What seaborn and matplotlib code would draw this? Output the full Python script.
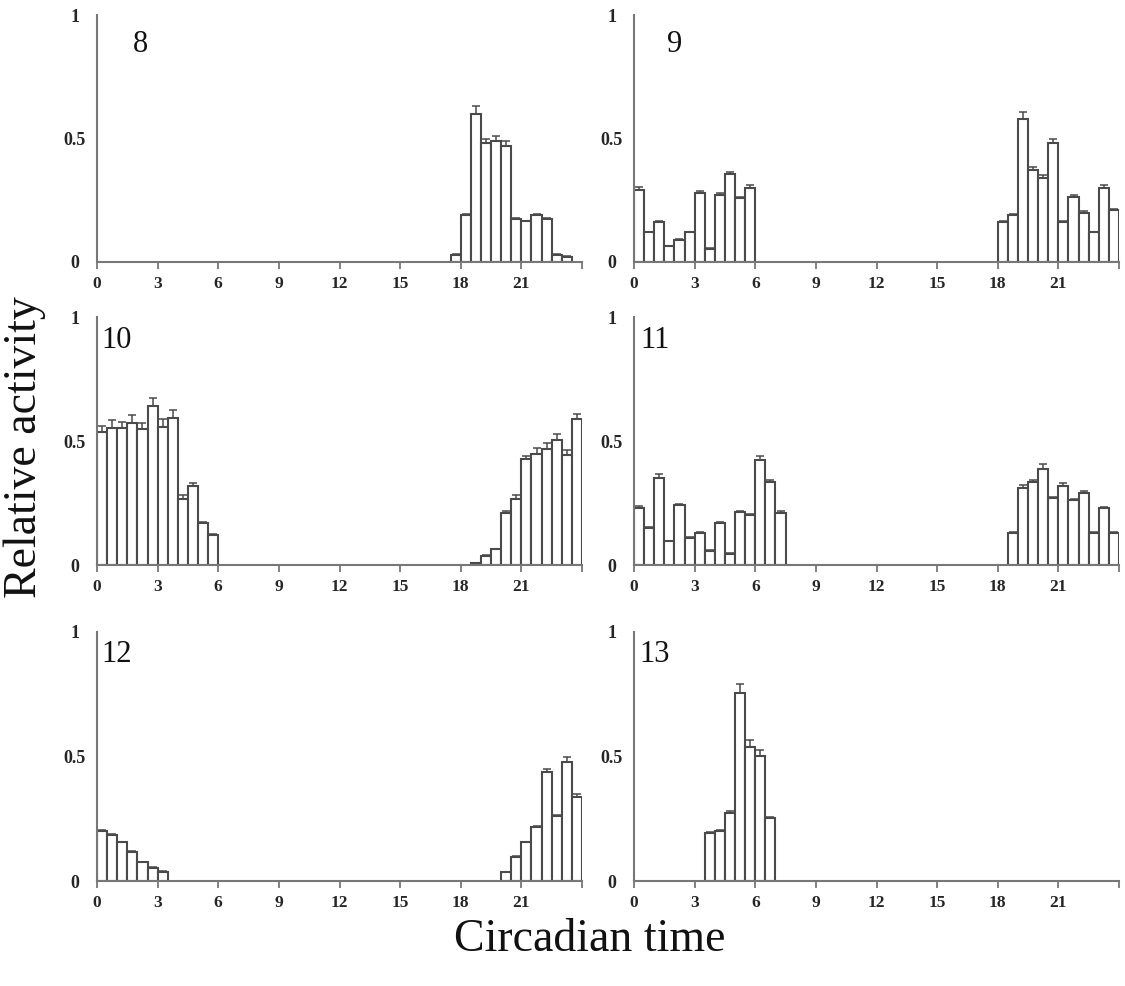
import numpy as np
import pandas as pd
import matplotlib
matplotlib.use("Agg")
import matplotlib.pyplot as plt
import seaborn as sns

sns.set_theme(style="white")
plt.rcParams['font.family'] = ['Liberation Serif', 'DejaVu Serif']

# ---- data: bin start times (h), relative activity, SE ----
p8_t = [17.5, 18, 18.5, 19, 19.5, 20, 20.5, 21, 21.5, 22, 22.5, 23]
p8_v = [0.03, 0.19, 0.60, 0.48, 0.49, 0.47, 0.176, 0.164, 0.19, 0.176, 0.03, 0.02]
p8_e = [0.004, 0.005, 0.03, 0.02, 0.02, 0.02, 0.004, 0.004, 0.005, 0.004, 0.003, 0.003]

p9_t = [0, 0.5, 1, 1.5, 2, 2.5, 3, 3.5, 4, 4.5, 5, 5.5,
        18, 18.5, 19, 19.5, 20, 20.5, 21, 21.5, 22, 22.5, 23, 23.5]
p9_v = [0.29, 0.12, 0.16, 0.063, 0.09, 0.12, 0.28, 0.054, 0.27, 0.356, 0.258, 0.30,
        0.161, 0.19, 0.578, 0.372, 0.34, 0.48, 0.161, 0.265, 0.20, 0.12, 0.30, 0.21]
p9_e = [0.012, 0.003, 0.005, 0.003, 0.003, 0.003, 0.006, 0.003, 0.008, 0.01, 0.006, 0.01,
        0.004, 0.005, 0.03, 0.013, 0.012, 0.02, 0.004, 0.006, 0.005, 0.003, 0.01, 0.006]

p10_t = [0, 0.5, 1, 1.5, 2, 2.5, 3, 3.5, 4, 4.5, 5, 5.5,
         18.5, 19, 19.5, 20, 20.5, 21, 21.5, 22, 22.5, 23, 23.5]
p10_v = [0.536, 0.554, 0.551, 0.574, 0.547, 0.642, 0.558, 0.594, 0.267, 0.318, 0.168, 0.121,
         0.008, 0.038, 0.063, 0.21, 0.267, 0.426, 0.446, 0.466, 0.504, 0.444, 0.587]
p10_e = [0.024, 0.03, 0.025, 0.03, 0.027, 0.03, 0.03, 0.03, 0.015, 0.013, 0.005, 0.003,
         0.002, 0.003, 0.003, 0.006, 0.015, 0.013, 0.024, 0.027, 0.026, 0.019, 0.023]

p11_t = [0, 0.5, 1, 1.5, 2, 2.5, 3, 3.5, 4, 4.5, 5, 5.5, 6, 6.5, 7,
         18.5, 19, 19.5, 20, 20.5, 21, 21.5, 22, 22.5, 23, 23.5]
p11_v = [0.231, 0.149, 0.349, 0.095, 0.24, 0.109, 0.129, 0.058, 0.17, 0.045, 0.212, 0.20, 0.425, 0.333, 0.21,
         0.129, 0.31, 0.333, 0.387, 0.272, 0.319, 0.262, 0.292, 0.129, 0.228, 0.129]
p11_e = [0.005, 0.004, 0.017, 0.003, 0.006, 0.003, 0.003, 0.002, 0.003, 0.002, 0.007, 0.004, 0.013, 0.011, 0.007,
         0.003, 0.013, 0.011, 0.02, 0.004, 0.011, 0.005, 0.006, 0.003, 0.006, 0.003]

p12_t = [0, 0.5, 1, 1.5, 2, 2.5, 3,
         20, 20.5, 21, 21.5, 22, 22.5, 23, 23.5]
p12_v = [0.20, 0.184, 0.155, 0.117, 0.075, 0.053, 0.036,
         0.036, 0.096, 0.155, 0.217, 0.437, 0.261, 0.477, 0.337]
p12_e = [0.006, 0.006, 0.003, 0.003, 0.003, 0.003, 0.003,
         0.002, 0.003, 0.003, 0.005, 0.014, 0.005, 0.02, 0.012]

p13_t = [3.5, 4, 4.5, 5, 5.5, 6, 6.5]
p13_v = [0.192, 0.20, 0.273, 0.756, 0.54, 0.502, 0.252]
p13_e = [0.003, 0.005, 0.007, 0.034, 0.027, 0.024, 0.006]

panel_ids = ["8", "9", "10", "11", "12", "13"]
panels = [(p8_t, p8_v, p8_e), (p9_t, p9_v, p9_e), (p10_t, p10_v, p10_e),
          (p11_t, p11_v, p11_e), (p12_t, p12_v, p12_e), (p13_t, p13_v, p13_e)]

xticks = [0, 3, 6, 9, 12, 15, 18, 21, 24]
xticklabels = ["0", "3", "6", "9", "12", "15", "18", "21", ""]
yticks = [0, 0.5, 1]
yticklabels = ["0", "0.5", "1"]

# ---- layout ----
W, H = 1125, 986
fig = plt.figure(figsize=(W / 100, H / 100), dpi=100)
col_x = [97, 634]
ax_w = 485
rows = [(15, 262), (317, 565), (632, 881)]
label_pos = [(140, 45), (675, 45), (117, 340), (655, 340), (117, 655), (655, 655)]

edge = "#4a4a4a"
axc = "#777777"
for i, (pid, (t, v, e)) in enumerate(zip(panel_ids, panels)):
    r, c = divmod(i, 2)
    top, bot = rows[r]
    ax = fig.add_axes([col_x[c] / W, 1 - bot / H, ax_w / W, (bot - top) / H])
    df = pd.DataFrame({"t": np.array(t) + 0.25, "v": v})
    sns.barplot(data=df, x="t", y="v", native_scale=True, width=1.0,
                color="white", edgecolor=edge, linewidth=1.5, errorbar=None, ax=ax)
    ax.errorbar(np.array(t) + 0.25, v, yerr=[np.zeros(len(e)), e], fmt="none",
                ecolor=edge, elinewidth=1.1, capsize=3, capthick=1.1)
    ax.set_xlim(0, 24)
    ax.set_ylim(0, 1)
    ax.set_xlabel("")
    ax.set_ylabel("")
    for s in ["top", "right"]:
        ax.spines[s].set_visible(False)
    for s in ["left", "bottom"]:
        ax.spines[s].set_color(axc)
        ax.spines[s].set_linewidth(1.5)
    ax.set_xticks(xticks)
    ax.set_xticklabels(xticklabels, fontsize=12.5, fontweight="bold")
    ax.tick_params(axis="x", which="major", bottom=True, direction="out", length=5,
                   width=1.3, color=axc, pad=5)
    ax.set_yticks(yticks)
    ax.set_yticklabels(yticklabels, fontsize=13, fontweight="bold")
    ax.tick_params(axis="y", which="major", left=True, length=0, pad=16)
    ax.set_yticks([0, 1], minor=True)
    ax.tick_params(axis="y", which="minor", left=True, direction="out", length=5,
                   width=1.3, color=axc)
    for lbl in ax.get_yticklabels():
        lbl.set_ha("center")
    ax.set_facecolor("white")
    lx, ly = label_pos[i]
    fig.text(lx / W, 1 - ly / H, pid, fontsize=22, ha="center", va="center", color="#111111")

fig.text(25 / W, 1 - 447 / H, "Relative activity", rotation=90, fontsize=33,
         ha="center", va="center", color="#111111")
fig.text(590 / W, 1 - 940 / H, "Circadian time", fontsize=33,
         ha="center", va="center", color="#111111")

fig.savefig("out.png", dpi=100, facecolor="white")
